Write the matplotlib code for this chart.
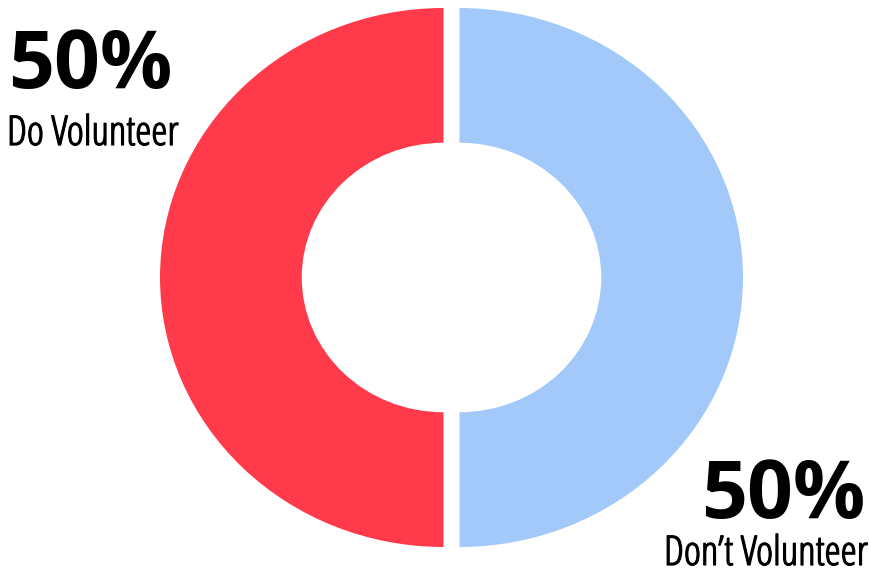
import matplotlib
matplotlib.use("Agg")
import matplotlib.pyplot as plt
from matplotlib import font_manager as fm
import matplotlib.patheffects as pe

labels = ["Do Volunteer", "Don\u2019t Volunteer"]
values = [50, 50]
colors = ["#FF3A4B", "#A2C9FA"]

W, H = 870, 582
fig = plt.figure(figsize=(W / 100, H / 100), dpi=100)
ax = fig.add_axes([0, 0, 1, 1])

ax.pie(values, colors=colors, startangle=90, counterclock=True,
       explode=[0.0282, 0.0282], radius=1.0,
       wedgeprops=dict(width=0.5, linewidth=0), frame=False)
ax.set_aspect("auto")
ax.set_xlim(-451.5 / 283.5, 418.5 / 283.5)
ax.set_ylim(-304.5 / 269.5, 277.5 / 269.5)
ax.axis("off")

big = fm.FontProperties(family="Open Sans", weight="bold", size=58)
small = fm.FontProperties(family="Open Sans", weight="light",
                          stretch="condensed", size=29.5)
thicken = [pe.withStroke(linewidth=0.9, foreground="black")]


def px(x, y):
    return x / W, 1 - y / H


pcts = [f"{v}%" for v in values]

fig.text(*px(8, 88), pcts[0], fontproperties=big, ha="left", va="baseline")
t1 = fig.text(*px(7, 145), labels[0], fontproperties=small,
              ha="left", va="baseline")
fig.text(*px(865, 518), pcts[1], fontproperties=big, ha="right", va="baseline")
t2 = fig.text(*px(868, 565), labels[1], fontproperties=small,
              ha="right", va="baseline")
for t in (t1, t2):
    t.set_path_effects(thicken)

fig.savefig("out.png", dpi=100)
